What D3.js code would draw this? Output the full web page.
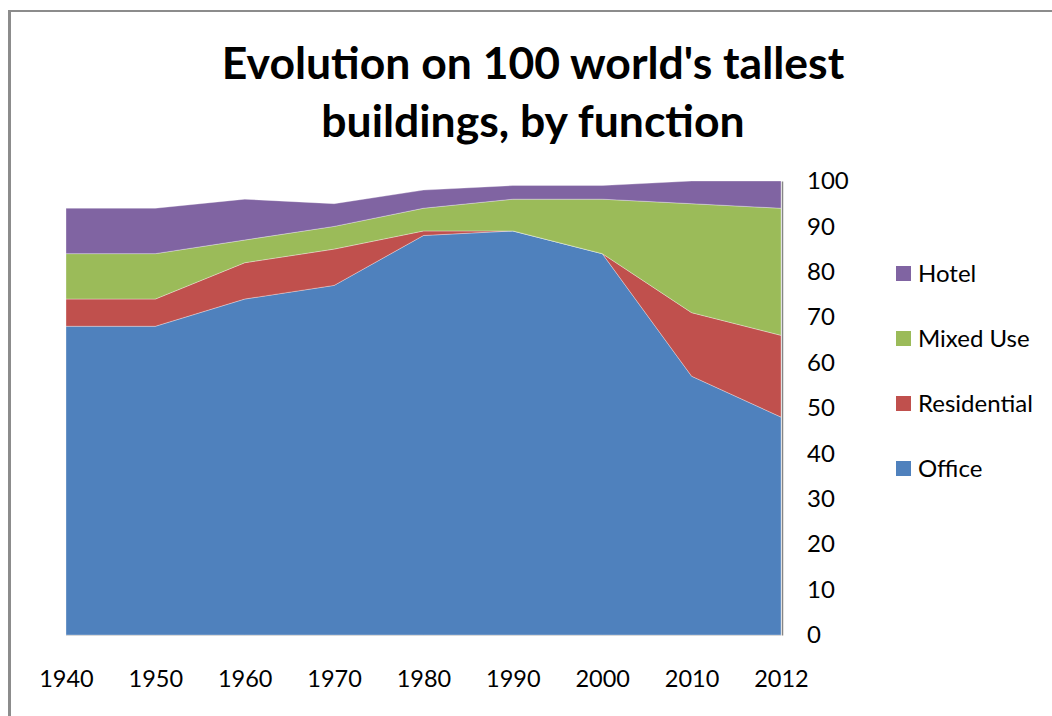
<!DOCTYPE html>
<html>
<head>
<meta charset="utf-8">
<script src="https://cdn.jsdelivr.net/npm/d3@7"></script>
<style>
  html, body { margin: 0; padding: 0; background: #fff; }
  svg { display: block; }
  text { font-family: Lato, "Open Sans", sans-serif; fill: #000; }
</style>
</head>
<body>
<svg id="chart" width="1052" height="716"></svg>
<script>
// Share of the 100 tallest buildings by primary function
const years       = ["1940", "1950", "1960", "1970", "1980", "1990", "2000", "2010", "2012"];
const office      = [68, 68, 74, 77, 88, 89, 84, 57, 48];
const residential = [ 6,  6,  8,  8,  1,  0,  0, 14, 18];
const mixedUse    = [10, 10,  5,  5,  5,  7, 12, 24, 28];
const hotel       = [10, 10,  9,  5,  4,  3,  3,  5,  6];

const seriesNames = ["Office", "Residential", "Mixed Use", "Hotel"];
const seriesColors = ["#4F81BD", "#C0504D", "#9BBB59", "#8064A2"];
const yTicks = [0, 10, 20, 30, 40, 50, 60, 70, 80, 90, 100];
const titleLines = ["Evolution on 100 world's tallest", "buildings, by function"];

const svg = d3.select("#chart");

// frame around the chart
svg.append("line").attr("x1", 9.5).attr("x2", 9.5).attr("y1", 10).attr("y2", 716)
  .attr("stroke", "#8c8c8c").attr("stroke-width", 3);
svg.append("line").attr("x1", 8).attr("x2", 1052).attr("y1", 11).attr("y2", 11)
  .attr("stroke", "#8c8c8c").attr("stroke-width", 2);

const rows = years.map((y, i) => ({
  year: y,
  "Office": office[i],
  "Residential": residential[i],
  "Mixed Use": mixedUse[i],
  "Hotel": hotel[i]
}));

const x = d3.scalePoint().domain(years).range([66, 781]);
const y = d3.scaleLinear().domain([0, 100]).range([635, 181]);

const stacked = d3.stack().keys(seriesNames)(rows);

const area = d3.area()
  .x(d => x(d.data.year))
  .y0(d => y(d[0]))
  .y1(d => y(d[1]));

svg.append("g").selectAll("path")
  .data(stacked)
  .join("path")
  .attr("d", area)
  .attr("fill", (d, i) => seriesColors[i])
  .attr("stroke", "rgba(255,255,255,0.45)")
  .attr("stroke-width", 0.7);

// category axis baseline
svg.append("line")
  .attr("x1", x(years[0])).attr("x2", x(years[years.length - 1]))
  .attr("y1", y(0) + 0.5).attr("y2", y(0) + 0.5)
  .attr("stroke", "#d9d9d9").attr("stroke-width", 1);

// value axis on the right
const yAxis = d3.axisRight(y).tickValues(yTicks).tickSize(0).tickPadding(25);
const yG = svg.append("g")
  .attr("transform", `translate(${x(years[years.length - 1]) + 1},0)`)
  .call(yAxis);
yG.select(".domain").attr("stroke", "#868686").attr("stroke-width", 1.5);
yG.selectAll("text")
  .attr("font-family", "Lato, sans-serif")
  .attr("font-size", 24)
  .attr("fill", "#000");

// category axis labels
const xAxis = d3.axisBottom(x).tickSize(0).tickPadding(35);
const xG = svg.append("g")
  .attr("transform", `translate(0,${y(0)})`)
  .call(xAxis);
xG.select(".domain").remove();
xG.selectAll("text")
  .attr("font-family", "Lato, sans-serif")
  .attr("font-size", 23.5)
  .attr("fill", "#000");

// title
svg.append("g").selectAll("text")
  .data(titleLines)
  .join("text")
  .attr("x", 533)
  .attr("y", (d, i) => 79 + i * 58)
  .attr("text-anchor", "middle")
  .attr("font-size", 44.5)
  .attr("font-weight", "bold")
  .text(d => d);

// legend, top entry is the last stacked series
const legendItems = seriesNames.map((n, i) => ({ name: n, color: seriesColors[i] })).reverse();
const lg = svg.append("g").selectAll("g")
  .data(legendItems)
  .join("g")
  .attr("transform", (d, i) => `translate(896,${266 + i * 65})`);
lg.append("rect").attr("width", 15).attr("height", 15).attr("fill", d => d.color);
lg.append("text")
  .attr("x", 22).attr("y", 7.5).attr("dy", "0.36em")
  .attr("font-size", 24)
  .text(d => d.name);
</script>
</body>
</html>
